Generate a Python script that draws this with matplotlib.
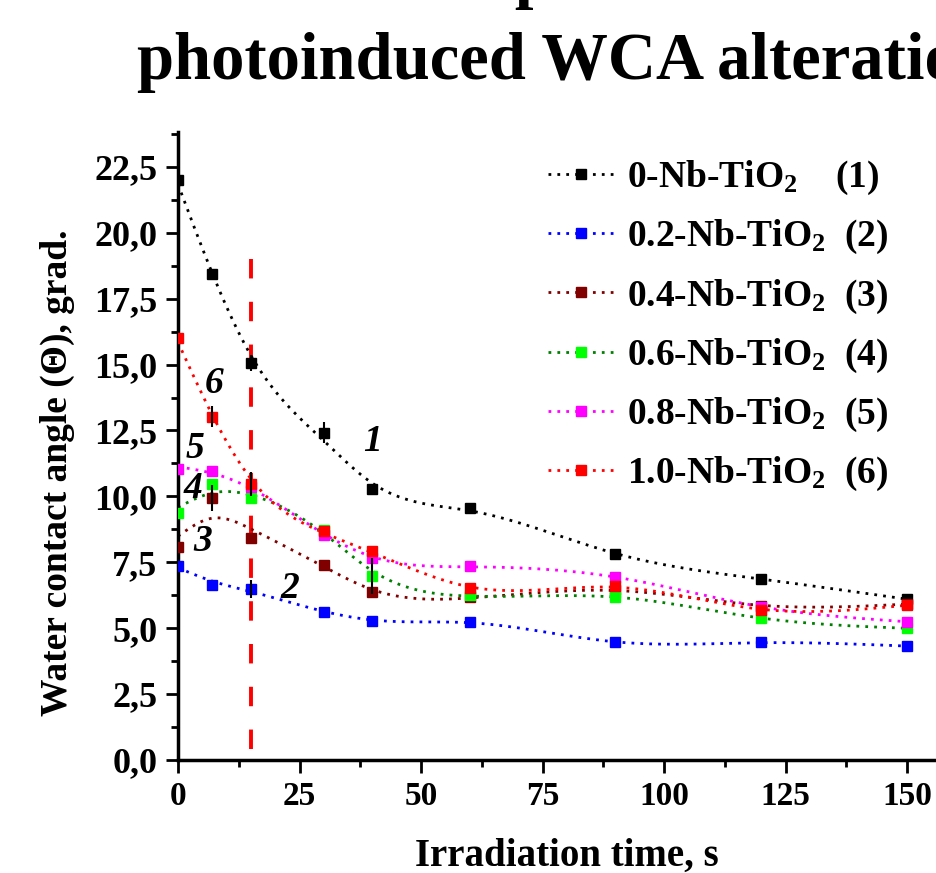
import numpy as np
import matplotlib
matplotlib.use("Agg")
import matplotlib.pyplot as plt
from matplotlib.ticker import MultipleLocator, FuncFormatter

"""data read off the reference"""
time_s = [0, 7, 15, 30, 40, 60, 90, 120, 150]
wca_0 = [22.0, 18.45, 15.05, 12.42, 10.27, 9.55, 7.81, 6.87, 6.10]
wca_02 = [7.36, 6.64, 6.49, 5.63, 5.27, 5.25, 4.46, 4.46, 4.32]
wca_04 = [8.07, 9.95, 8.41, 7.40, 6.36, 6.17, 6.45, 5.85, 5.92]
wca_06 = [9.36, 10.46, 9.95, 8.73, 6.98, 6.25, 6.20, 5.37, 5.00]
wca_08 = [11.04, 10.96, 10.37, 8.54, 7.65, 7.36, 6.95, 5.80, 5.25]
wca_10 = [16.02, 13.02, 10.46, 8.70, 7.93, 6.51, 6.60, 5.69, 5.88]

err_0 = [0, 0, 0.3, 0.4, 0, 0, 0, 0, 0]
err_02 = [0, 0, 0.35, 0, 0, 0, 0, 0, 0]
err_04 = [0, 0.5, 0, 0, 0, 0, 0, 0, 0]
err_06 = [0, 0, 0, 0, 0.7, 0, 0, 0, 0]
err_08 = [0, 0, 0, 0, 0, 0, 0, 0, 0]
err_10 = [0, 0.4, 0.45, 0, 0, 0, 0, 0, 0]

labels = ["0-Nb-TiO$_2$    (1)", "0.2-Nb-TiO$_2$  (2)", "0.4-Nb-TiO$_2$  (3)",
          "0.6-Nb-TiO$_2$  (4)", "0.8-Nb-TiO$_2$  (5)", "1.0-Nb-TiO$_2$  (6)"]
marker_colors = ["#000000", "#0000ff", "#800000", "#00ff00", "#ff00ff", "#ff0000"]
line_colors = ["#000000", "#0000ff", "#800000", "#008000", "#ff00ff", "#ff0000"]

curve_tags = ["1", "2", "3", "4", "5", "6"]
tag_pos = [(40, 12.1), (23, 6.5), (5, 8.3), (3, 10.3), (3.5, 11.8), (7.5, 14.3)]


"""smoothed connecting line (display only, markers stay on the data)"""
def smooth(x, y, lam=800.0, step=0.5):
    x = np.asarray(x, float)
    y = np.asarray(y, float)
    grid = np.arange(x[0], x[-1] + step / 2, step)
    n = len(grid)
    idx = np.round((x - x[0]) / step).astype(int)
    w = np.zeros(n)
    z = np.zeros(n)
    w[idx] = 1.0
    z[idx] = y
    d = np.diff(np.eye(n), 2, axis=0)
    a = np.diag(w) + lam * d.T @ d
    return grid, np.linalg.solve(a, w * z)


plt.rcParams['font.family'] = ['Liberation Serif', 'DejaVu Serif']
plt.rcParams['font.weight'] = 'bold'
plt.rcParams['mathtext.fontset'] = 'custom'
plt.rcParams['mathtext.rm'] = 'Liberation Serif:bold'
plt.rcParams['mathtext.it'] = 'Liberation Serif:italic:bold'
plt.rcParams['mathtext.bf'] = 'Liberation Serif:bold'
plt.rcParams['mathtext.default'] = 'rm'

fig = plt.figure(figsize=(9.37, 8.73), dpi=100)
ax = fig.add_axes([0.19, 0.1294, 0.83, 0.7194])

series = [wca_0, wca_02, wca_04, wca_06, wca_08, wca_10]
errs = [err_0, err_02, err_04, err_06, err_08, err_10]

handles = []
for i in range(len(series)):
    sx, sy = smooth(time_s, series[i])
    ax.plot(sx, sy, linestyle=(0, (1, 2.2)), color=line_colors[i], lw=2, zorder=2)
    e = np.array(errs[i])
    mask = e > 0
    if mask.any():
        ax.errorbar(np.array(time_s)[mask], np.array(series[i])[mask], yerr=e[mask],
                    fmt="none", ecolor="black", elinewidth=1.5, capsize=0, zorder=4)
    ax.plot(time_s, series[i], linestyle="none", marker="s", ms=7,
            color=marker_colors[i], zorder=3)
    h, = ax.plot([], [], linestyle=(0, (1, 2.2)), color=line_colors[i], lw=2,
                 marker="s", ms=7, markerfacecolor=marker_colors[i],
                 markeredgecolor=marker_colors[i])
    handles.append(h)

ax.plot([15, 15], [19, 0], color="#ff0000", lw=2.8, linestyle=(0, (5, 6)), zorder=1)

for i in range(len(curve_tags)):
    ax.text(tag_pos[i][0], tag_pos[i][1], curve_tags[i], fontsize=27,
            style="italic", fontweight="bold", ha="center", va="center")

ax.set_xlim(0, 160)
ax.set_ylim(0, 23.82)
ax.xaxis.set_major_locator(MultipleLocator(25))
ax.xaxis.set_minor_locator(MultipleLocator(12.5))
ax.yaxis.set_major_locator(MultipleLocator(2.5))
ax.yaxis.set_minor_locator(MultipleLocator(1.25))
ax.yaxis.set_major_formatter(FuncFormatter(lambda v, p: ("%.1f" % v).replace(".", ",")))
ax.tick_params(which="major", direction="out", length=9, width=2, pad=6)
ax.tick_params(which="minor", direction="out", length=5, width=2)
ax.tick_params(axis="y", labelsize=26)
ax.tick_params(axis="x", labelsize=24)
ax.spines["top"].set_visible(False)
ax.spines["right"].set_visible(False)
ax.spines["left"].set_linewidth(2.5)
ax.spines["bottom"].set_linewidth(2.5)
for lab in ax.get_xticklabels() + ax.get_yticklabels():
    lab.set_fontweight("bold")

ax.set_xlabel("Irradiation time, s", fontsize=28, fontweight="bold")
ax.xaxis.set_label_coords(0.5, -0.124)
ax.set_ylabel("Water contact angle (\u0398), grad.", fontsize=27, fontweight="bold")
ax.yaxis.set_label_coords(-0.132, 0.457)

ax.legend(handles, labels, loc="upper left", bbox_to_anchor=(0.432, 1.011), frameon=False,
          fontsize=27, handlelength=1.75, handletextpad=0.35, labelspacing=0.56)

fig.text(0.403, 1.0046, "Comparison of the", fontsize=48, fontweight="bold",
         ha="left", va="baseline")
fig.text(0.146, 0.91, "photoinduced WCA alteration", fontsize=48, fontweight="bold",
         ha="left", va="baseline")

fig.savefig("out.png", dpi=100)
